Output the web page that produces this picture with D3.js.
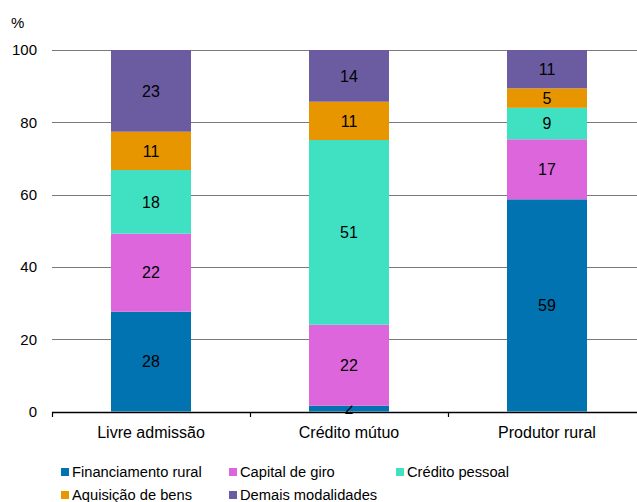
<!DOCTYPE html>
<html>
<head>
<meta charset="utf-8">
<script src="https://cdn.jsdelivr.net/npm/d3@7"></script>
<style>
  html, body { margin: 0; padding: 0; background: #fff; }
  svg { display: block; font-family: "Liberation Sans", Arial, sans-serif; }
</style>
</head>
<body>
<svg id="chart" width="637" height="502"></svg>
<script>
// Categories (bars) and the credit types stacked in each one (%)
const categories = ["Livre admissão", "Crédito mútuo", "Produtor rural"];
const seriesNames = ["Financiamento rural", "Capital de giro", "Crédito pessoal", "Aquisição de bens", "Demais modalidades"];
const financiamentoRural = [27.6, 1.6, 58.7];
const capitalDeGiro      = [21.6, 22.4, 16.6];
const creditoPessoal     = [17.6, 51.1, 8.7];
const aquisicaoDeBens    = [10.6, 10.6, 5.4];
const demaisModalidades  = [22.6, 14.3, 10.6];
const yTicks = [0, 20, 40, 60, 80, 100];
const colors = ["#0073B0", "#DD66DD", "#40E0C3", "#E89600", "#6B5CA2"];

const seriesValues = [financiamentoRural, capitalDeGiro, creditoPessoal, aquisicaoDeBens, demaisModalidades];
const rows = categories.map((c, i) => {
  const r = { category: c };
  seriesNames.forEach((s, j) => { r[s] = seriesValues[j][i]; });
  return r;
});

const svg = d3.select("#chart");
const x0 = 52, x1 = 646, yTop = 50, yBottom = 411.5;

const x = d3.scaleBand().domain(categories).range([x0, x1])
  .paddingInner(0.596).paddingOuter(0.298);
const y = d3.scaleLinear().domain([0, 100]).range([yBottom, yTop]);

// Horizontal gridlines
svg.append("g")
  .selectAll("line")
  .data(yTicks.filter(d => d > 0))
  .join("line")
  .attr("x1", x0).attr("x2", 637)
  .attr("y1", d => Math.round(y(d)) + 0.5)
  .attr("y2", d => Math.round(y(d)) + 0.5)
  .attr("stroke", "#7a7a7a").attr("stroke-width", 1.2);

// Y tick labels
svg.append("g")
  .selectAll("text")
  .data(yTicks)
  .join("text")
  .attr("x", 37).attr("y", d => y(d))
  .attr("dy", "0.36em")
  .attr("text-anchor", "end")
  .attr("font-size", 15).attr("fill", "#000")
  .text(d => d);

svg.append("text")
  .attr("x", 11).attr("y", 28)
  .attr("font-size", 15).attr("fill", "#000")
  .text("%");

// Stacked bars
const stack = d3.stack().keys(seriesNames)(rows);
const layers = svg.append("g").selectAll("g")
  .data(stack)
  .join("g")
  .attr("fill", (d, i) => colors[i]);

layers.selectAll("rect")
  .data(d => d)
  .join("rect")
  .attr("x", d => x(d.data.category))
  .attr("width", x.bandwidth())
  .attr("y", d => y(d[1]))
  .attr("height", d => y(d[0]) - y(d[1]));

// Value labels centred in each segment
layers.selectAll("text")
  .data(d => d.map(p => ({ p, key: d.key })))
  .join("text")
  .attr("x", d => x(d.p.data.category) + x.bandwidth() / 2)
  .attr("y", d => (y(d.p[0]) + y(d.p[1])) / 2)
  .attr("dy", "0.36em")
  .attr("text-anchor", "middle")
  .attr("font-size", 16).attr("fill", "#000")
  .text(d => Math.round(d.p.data[d.key]));

// X axis baseline with boundary ticks
const xAxis = d3.axisBottom(x).tickSize(0).tickPadding(15);
const ax = svg.append("g").attr("transform", `translate(0,${Math.round(yBottom)})`).call(xAxis);
ax.select(".domain").remove();
ax.selectAll("text").attr("font-size", 16).attr("fill", "#000")
  .attr("font-family", "Liberation Sans, Arial, sans-serif");
ax.append("line")
  .attr("x1", x0).attr("x2", 637).attr("y1", 0.5).attr("y2", 0.5)
  .attr("stroke", "#000").attr("stroke-width", 1.6);
const bounds = [x0, ...categories.slice(1).map(c => x(c) - x.step() * x.paddingInner() / 2)];
ax.selectAll(".bound")
  .data(bounds)
  .join("line")
  .attr("x1", d => Math.round(d) + 0.5).attr("x2", d => Math.round(d) + 0.5)
  .attr("y1", 0).attr("y2", 5)
  .attr("stroke", "#000").attr("stroke-width", 1.2);

// Legend
const legendPos = [[61, 468], [229, 468], [396, 468], [61, 491], [229, 491]];
const legend = svg.append("g").selectAll("g")
  .data(seriesNames)
  .join("g")
  .attr("transform", (d, i) => `translate(${legendPos[i][0]},${legendPos[i][1]})`);
legend.append("rect").attr("width", 8).attr("height", 8)
  .attr("fill", (d, i) => colors[i]);
legend.append("text")
  .attr("x", 11).attr("y", 8.5)
  .attr("font-size", 14.7).attr("fill", "#000")
  .text(d => d);
</script>
</body>
</html>
